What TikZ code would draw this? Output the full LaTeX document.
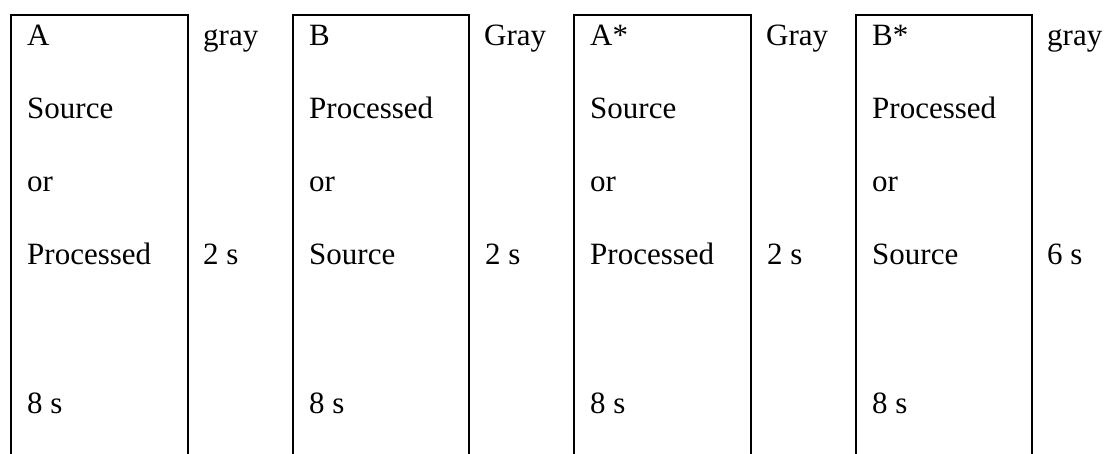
\documentclass[tikz,border=0pt]{standalone}
\usepackage{fontspec}
\setmainfont{Liberation Serif}
\begin{document}
\begin{tikzpicture}[x=1pt,y=-1pt,
  frame/.style={line width=2pt, line join=miter},
  cell/.style={anchor=base west, inner sep=0pt, font=\fontsize{31}{31}\selectfont}]
\useasboundingbox (0,0) rectangle (1110,453);
\clip (0,0) rectangle (1110,453);
% one open-bottom column per stimulus, followed by its gap label
\foreach \i/\l/\r/\head/\first/\second/\gap/\dur in {
    1/11/188/A/Source/Processed/gray/6 s,
    2/293/469/B/Processed/Source/Gray/2 s,
    3/574/751/A*/Source/Processed/Gray/2 s,
    4/856/1032/B*/Processed/Source/gray/6 s}{
  \draw[frame] (\l,460) -- (\l,15) -- (\r,15) -- (\r,460);
  \node[cell] (head\i)   at (\l+16,45)  {\head};
  \node[cell] (first\i)  at (\l+16,118) {\first};
  \node[cell] (or\i)     at (\l+16,191) {or};
  \node[cell] (second\i) at (\l+16,264) {\second};
  \node[cell] (len\i)    at (\l+16,413) {8 s};
  \node[cell] (gap\i)    at (\r+15,45)  {\gap};
}
% pause lengths after each column
\node[cell] (pause1) at (203,264) {2 s};
\node[cell] (pause2) at (485,264) {2 s};
\node[cell] (pause3) at (767,264) {2 s};
\node[cell] (pause4) at (1047,264) {6 s};
\end{tikzpicture}
\end{document}
